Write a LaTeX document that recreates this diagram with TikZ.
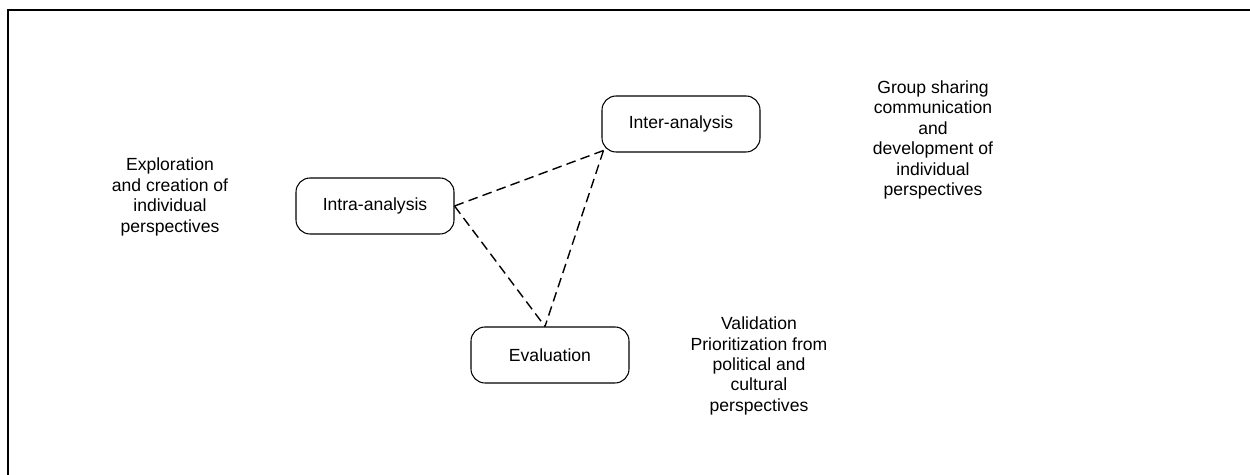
\documentclass[tikz,border=0pt]{standalone}
\usepackage{fontspec}
\setmainfont{Liberation Sans}

\begin{document}
\begin{tikzpicture}[x=0.02cm, y=-0.02cm,
    every node/.style={font=\fontsize{10}{11.6}\selectfont},
    phase/.style={draw, line width=0.6pt, rounded corners=8pt, minimum width=158*0.02cm, minimum height=56*0.02cm},
    note/.style={align=center, inner sep=0pt},
    link/.style={line width=0.8pt, dash pattern=on 5.5pt off 3pt}]

    \useasboundingbox (0,0) rectangle (1250,475);

    %frame
    \draw[line width=1.2pt] (1250,10) -- (8,10) -- (8,475);

    %phases
    \node[phase] (intra) at (375,206) {Intra-analysis};
    \node[phase] (inter) at (681,124) {Inter-analysis};
    \node[phase] (eval) at (550,355) {Evaluation};

    \coordinate (evaltop) at ([xshift=-5*0.02cm]eval.north);
    \coordinate (intercorner) at ([xshift=2*0.02cm, yshift=2*0.02cm]inter.south west);

    \draw[link] (intra.east) -- (intercorner);
    \draw[link] (intra.east) -- (evaltop);
    \draw[link] (intercorner) -- (evaltop);

    %notes
    \node[note] (explore) at (170,197) {Exploration\\and creation of\\individual\\perspectives};
    \node[note] (group) at (933,140) {Group sharing\\communication\\and\\development of\\individual\\perspectives};
    \node[note] (valid) at (759,366) {Validation\\Prioritization from\\political and\\cultural\\perspectives};
\end{tikzpicture}
\end{document}
